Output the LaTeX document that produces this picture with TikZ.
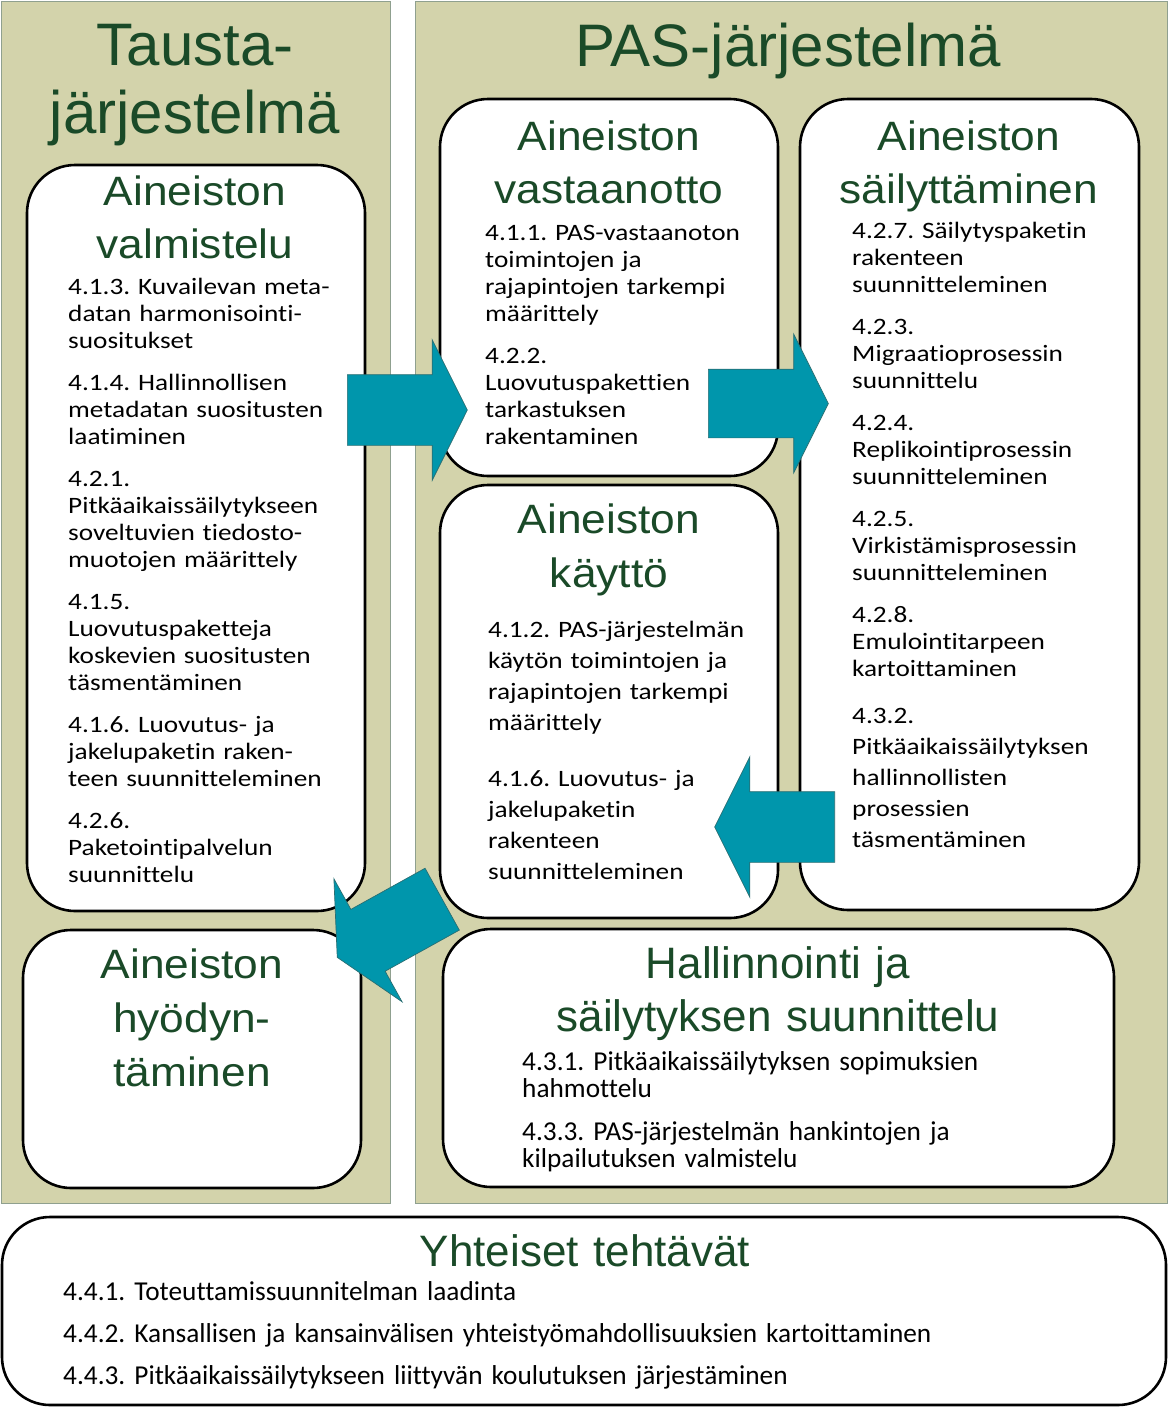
\documentclass[tikz,border=0pt]{standalone}
\usepackage{fontspec}
\setmainfont{Carlito}[Ligatures=NoCommon]
\newfontfamily\titlefont{Liberation Sans}
\newfontfamily\widetitlefont[FakeStretch=1.08]{Liberation Sans}
\newfontfamily\widebodyfont[FakeStretch=1.16,Ligatures=NoCommon]{Carlito}
\usepackage{xcolor}
\definecolor{panelfill}{HTML}{D3D3AB}
\definecolor{panelborder}{HTML}{8FA08F}
\definecolor{titlegreen}{HTML}{1A4A28}
\definecolor{arrowfill}{HTML}{0096AC}
\definecolor{arrowedge}{HTML}{2A6E72}
\usepackage{tikz}
\usetikzlibrary{shapes.arrows}
\frenchspacing
\tikzset{
    panel/.style={
        rectangle,
        draw=panelborder,
        fill=panelfill,
        line width=1pt,
        inner sep=0pt,
    },
    phase/.style={
        rectangle,
        rounded corners=48pt,
        draw=black,
        fill=white,
        line width=2.6pt,
        inner sep=0pt,
    },
    bigtitle/.style={
        text=titlegreen,
        font=\titlefont\fontsize{60}{68}\selectfont,
        text width=700pt,
        align=center,
        anchor=base,
        inner sep=0pt,
    },
    phasetitle/.style={
        text=titlegreen,
        font=\widetitlefont\fontsize{41}{53}\selectfont,
        text width=600pt,
        align=center,
        anchor=base,
        inner sep=0pt,
    },
    plaintitle/.style={
        phasetitle,
        font=\titlefont\fontsize{44}{53}\selectfont,
    },
    tasklist/.style={
        font=\widebodyfont\fontsize{23.5}{27}\selectfont,
        text width=600pt,
        align=left,
        anchor=base west,
        inner sep=0pt,
    },
    plainlist/.style={
        tasklist,
        text width=1050pt,
        font=\fontsize{27.3}{27}\selectfont,
    },
    flowarrow/.style={
        single arrow,
        draw=arrowedge,
        fill=arrowfill,
        line width=0.7pt,
        inner xsep=0pt,
        inner ysep=35pt,
        minimum height=120pt,
        single arrow head extend=35pt,
        single arrow tip angle=126.87,
        anchor=tail,
    },
}
\begin{document}
\begin{tikzpicture}[x=1pt,y=-1pt]
    \useasboundingbox (0,0) rectangle (1169,1408);
    % taustat
    \node[panel, minimum width=389pt, minimum height=1202pt] (tausta) at (195.5,602) {};
    \node[panel, minimum width=752pt, minimum height=1202pt] (pas) at (791,602) {};
    \node[bigtitle] (taustaTitle) at (195,65) {Tausta-\\järjestelmä};
    \node[bigtitle] (pasTitle) at (788,66) {PAS-järjestelmä};
    % vaiheet
    \node[phase, minimum width=338pt, minimum height=746pt] (valmistelu) at (196,538) {};
    \node[phase, minimum width=338pt, minimum height=377pt] (vastaanotto) at (609,287.5) {};
    \node[phase, minimum width=339pt, minimum height=811pt] (sailytys) at (969.5,504.5) {};
    \node[phase, minimum width=338pt, minimum height=433pt] (kaytto) at (609,701.5) {};
    \node[phase, minimum width=338pt, minimum height=258pt] (hyodynnys) at (192,1059) {};
    \node[phase, minimum width=671pt, minimum height=258pt] (hallinnointi) at (778.5,1058) {};
    \node[phase, minimum width=1164pt, minimum height=188pt] (yhteiset) at (584,1311) {};
    % otsikot
    \node[phasetitle] (valmisteluTitle) at (195,205) {Aineiston\\valmistelu};
    \node[phasetitle] (vastaanottoTitle) at (609,150) {Aineiston\\vastaanotto};
    \node[phasetitle] (sailytysTitle) at (969,150) {Aineiston\\säilyttäminen};
    \node[phasetitle, font=\widetitlefont\fontsize{41}{54}\selectfont] (kayttoTitle) at (609,533) {Aineiston\\käyttö};
    \node[phasetitle, font=\widetitlefont\fontsize{41}{54}\selectfont] (hyodynnysTitle) at (192,978) {Aineiston\\hyödyn-\\täminen};
    \node[plaintitle] (hallinnointiTitle) at (778,978) {Hallinnointi ja\\säilytyksen suunnittelu};
    \node[plaintitle] (yhteisetTitle) at (585,1266) {Yhteiset tehtävät};
    % tehtävät
    \node[tasklist] (valmisteluTasks) at (68,294) {4.1.3. Kuvailevan meta-\\datan harmonisointi-\\suositukset\\[15pt]
        4.1.4. Hallinnollisen\\metadatan suositusten\\laatiminen\\[15pt]
        4.2.1.\\Pitkäaikaissäilytykseen\\soveltuvien tiedosto-\\muotojen määrittely\\[15pt]
        4.1.5.\\Luovutuspaketteja\\koskevien suositusten\\täsmentäminen\\[15pt]
        4.1.6. Luovutus- ja\\jakelupaketin raken-\\teen suunnitteleminen\\[15pt]
        4.2.6.\\Paketointipalvelun\\suunnittelu};
    \node[tasklist] (vastaanottoTasks) at (485,240) {4.1.1. PAS-vastaanoton\\toimintojen ja\\rajapintojen tarkempi\\määrittely\\[15pt]
        4.2.2.\\Luovutuspakettien\\tarkastuksen\\rakentaminen};
    \node[tasklist] (sailytysTasks) at (852,238) {4.2.7. Säilytyspaketin\\rakenteen\\suunnitteleminen\\[15pt]
        4.2.3.\\Migraatioprosessin\\suunnittelu\\[15pt]
        4.2.4.\\Replikointiprosessin\\suunnitteleminen\\[15pt]
        4.2.5.\\Virkistämisprosessin\\suunnitteleminen\\[15pt]
        4.2.8.\\Emulointitarpeen\\kartoittaminen};
    \node[tasklist, font=\widebodyfont\fontsize{23.5}{31}\selectfont] (sailytysTasksB) at (852,723) {4.3.2.\\Pitkäaikaissäilytyksen\\hallinnollisten\\prosessien\\täsmentäminen};
    \node[tasklist, font=\widebodyfont\fontsize{23.5}{31}\selectfont] (kayttoTasks) at (488,637) {4.1.2. PAS-järjestelmän\\käytön toimintojen ja\\rajapintojen tarkempi\\määrittely\\[25pt]
        4.1.6. Luovutus- ja\\jakelupaketin\\rakenteen\\suunnitteleminen};
    \node[plainlist] (hallinnointiTasks) at (522,1070) {4.3.1. Pitkäaikaissäilytyksen sopimuksien\\hahmottelu\\[16pt]
        4.3.3. PAS-järjestelmän hankintojen ja\\kilpailutuksen valmistelu};
    \node[plainlist, font=\fontsize{27.3}{42}\selectfont] (yhteisetTasks) at (63,1300) {4.4.1. Toteuttamissuunnitelman laadinta\\
        4.4.2. Kansallisen ja kansainvälisen yhteistyömahdollisuuksien kartoittaminen\\
        4.4.3. Pitkäaikaissäilytykseen liittyvän koulutuksen järjestäminen};
    % nuolet
    \node[flowarrow] (valmisteluToVastaanotto) at (347,410) {};
    \node[flowarrow, inner ysep=34pt] (vastaanottoToSailytys) at (708,403.5) {};
    \node[flowarrow, rotate=180] (sailytysToKaytto) at (835,827) {};
    \node[flowarrow, rotate=209] (kayttoToHyodynnys) at (442.5,899) {};
\end{tikzpicture}
\end{document}
